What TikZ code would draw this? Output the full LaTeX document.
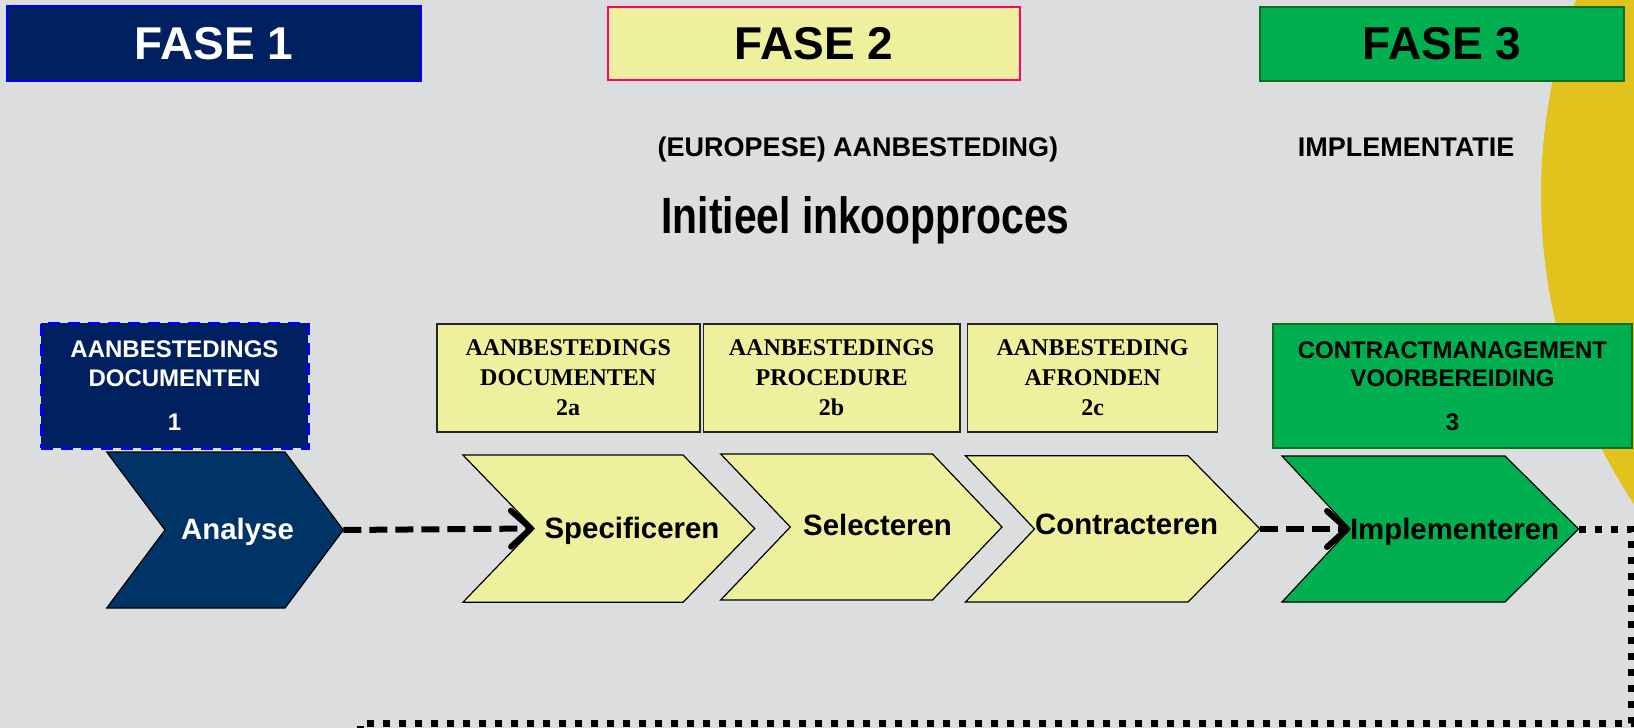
\documentclass[tikz,border=0pt]{standalone}
\usepackage{fontspec}
\setmainfont{Liberation Sans}
\newfontfamily\narrowfont[FakeStretch=0.8]{Liberation Sans}
\newfontfamily\timesfont{Liberation Serif}
\usetikzlibrary{arrows.meta}

\definecolor{bggray}{RGB}{220,221,223}
\definecolor{navy}{RGB}{0,32,96}
\definecolor{chevnavy}{RGB}{0,51,102}
\definecolor{paleyellow}{RGB}{238,240,158}
\definecolor{fasegreen}{RGB}{0,176,80}
\definecolor{darkgreen}{RGB}{16,110,30}
\definecolor{pinkred}{RGB}{255,0,102}
\definecolor{gold}{RGB}{226,195,30}

\tikzset{
	fasebox/.style={draw, line width=0.9pt, minimum height=37pt, inner sep=0pt,
		font=\bfseries\fontsize{23}{27}\selectfont},
	stepbox/.style={draw, align=center, inner sep=0pt},
	chevron/.style={draw=black, line width=0.6pt},
	chevlabel/.style={anchor=base, inner sep=0pt, font=\bfseries\fontsize{14.7}{17}\selectfont},
	dasharrow/.style={line width=3pt, dash pattern=on 9pt off 4pt,
		-{Straight Barb[length=10pt,width=18pt,round]}},
	dotline/.style={line width=3.5pt, dash pattern=on 3.5pt off 4.5pt}
}

\begin{document}
\begin{tikzpicture}[x=0.5pt, y=-0.5pt]
	%background
	\path[use as bounding box, fill=bggray] (0,0) rectangle (1634,728);
	\fill[gold] (2101,195) circle (280pt);

	%phases
	\node[fasebox, draw=blue, fill=navy, text=white, minimum width=206.7pt, minimum height=37.5pt] (fase1) at (214,43.5) {FASE 1};
	\node[fasebox, draw=pinkred, fill=paleyellow, minimum width=205.9pt, minimum height=36.7pt] (fase2) at (814.2,43.4) {FASE 2};
	\node[fasebox, draw=darkgreen, fill=fasegreen, minimum width=182pt] (fase3) at (1442,43.7) {FASE 3};

	%headings
	\node[anchor=base, font=\bfseries\fontsize{13.5}{16}\selectfont] (europese) at (858,156) {(EUROPESE) AANBESTEDING)};
	\node[anchor=base, font=\bfseries\fontsize{13.5}{16}\selectfont] (implementatie) at (1406,156) {IMPLEMENTATIE};
	\node[anchor=base, font=\narrowfont\bfseries\fontsize{25.5}{30}\selectfont] (title) at (865.5,233) {Initieel inkoopproces};

	%step boxes
	\node[stepbox, draw=blue, line width=1.5pt, dash pattern=on 6pt off 4pt, fill=navy, text=white,
		minimum width=133.5pt, minimum height=62.5pt, font=\bfseries\fontsize{12}{14.7}\selectfont]
		(doc1) at (174.5,385.5) {AANBESTEDINGS\\DOCUMENTEN\\[7.3pt]1};
	\foreach \n/\x/\w/\a/\b/\c in {
		doc2a/568.2/131.5/AANBESTEDINGS/DOCUMENTEN/2a,
		proc2b/831.6/128.1/AANBESTEDINGS/PROCEDURE/2b,
		afr2c/1092.6/125/AANBESTEDING/AFRONDEN/2c
	}\node[stepbox, draw=black!85, line width=0.8pt, fill=paleyellow, minimum width=\w pt, minimum height=54pt,
		font=\timesfont\bfseries\fontsize{12}{15}\selectfont] (\n) at (\x,378) {\a\\\b\\\c};
	\node[stepbox, draw=darkgreen, line width=1pt, fill=fasegreen, minimum width=179.5pt, minimum height=62pt,
		font=\bfseries\fontsize{12}{14.35}\selectfont]
		(cm3) at (1452.5,386) {CONTRACTMANAGEMENT\\VOORBEREIDING\\[7.4pt]3};

	%chevrons
	\filldraw[chevron, fill=chevnavy] (106.7,452) -- (285,452) -- (343.3,530) -- (285,608) -- (106.7,608) -- (165,530) -- cycle;
	\coordinate (analyse-tip) at (343.3,530);
	\foreach \n/\xa/\xb/\xt/\xn/\yt/\yb/\ym in {
		spec/462.9/683/754.7/534/455/602.3/528.5,
		sel/720.7/932.5/1002/790.3/454/600/527,
		con/965.5/1188/1260/1034.5/455.7/602/529
	}{
		\filldraw[chevron, fill=paleyellow] (\xa,\yt) -- (\xb,\yt) -- (\xt,\ym) -- (\xb,\yb) -- (\xa,\yb) -- (\xn,\ym) -- cycle;
		\coordinate (\n-tip) at (\xt,\ym);
		\coordinate (\n-notch) at (\xn,\ym);
	}
	\filldraw[chevron, fill=fasegreen] (1282,456) -- (1505,456) -- (1578.5,529) -- (1505,602) -- (1282,602) -- (1350,529) -- cycle;
	\coordinate (impl-tip) at (1578.5,529);
	\coordinate (impl-notch) at (1350,529);

	%labels
	\node[chevlabel, text=white] (analyse) at (237.5,539) {Analyse};
	\node[chevlabel] (specificeren) at (632,538) {Specificeren};
	\node[chevlabel] (selecteren) at (877.6,535) {Selecteren};
	\node[chevlabel] (contracteren) at (1126.6,534) {Contracteren};
	\node[chevlabel] (implementeren) at (1454.6,539) {Implementeren};

	%paths
	\coordinate (dotcorner) at (1631,723);
	\coordinate (dotend) at (360,745);
	\draw[dasharrow] (analyse-tip) -- (spec-notch);
	\draw[dasharrow] (con-tip) -- (impl-notch);
	\draw[dotline] (impl-tip) -| (dotcorner) -| (dotend);

\end{tikzpicture}
\end{document}
